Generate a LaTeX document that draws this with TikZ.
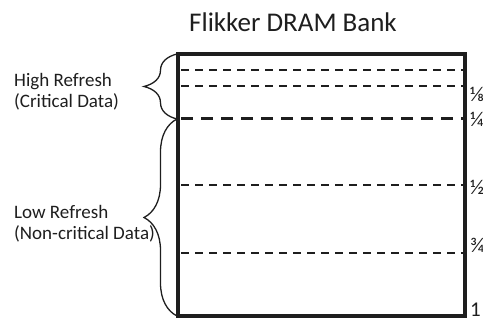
\documentclass[tikz,border=0pt]{standalone}
\usepackage{fontspec}
\setmainfont{Carlito}
\usetikzlibrary{decorations.pathreplacing}
\definecolor{ink}{RGB}{30,30,30}
\tikzset{
  bank/.style={draw=ink, line width=4.5pt, minimum width=287pt, minimum height=262pt, inner sep=0pt},
  thinsplit/.style={draw=ink, line width=2pt, dash pattern=on 8pt off 6pt},
  thicksplit/.style={draw=ink, line width=3pt, dash pattern=on 12pt off 8pt},
  lbl/.style={text=ink, font=\fontsize{19}{21}\selectfont, align=left, inner sep=0pt, anchor=base west},
  frac/.style={text=ink, font=\fontsize{21}{21}\selectfont, inner sep=0pt, anchor=base west},
  curly/.style={draw=ink, line width=1.3pt, decorate, decoration={brace, amplitude=33pt}},
}
\begin{document}
\begin{tikzpicture}[x=1pt, y=-1pt]
  \useasboundingbox (0,0) rectangle (483,320);
  \clip (0,0) rectangle (483,320);

  % the bank itself
  \node[bank] (bank) at (321.5,185) {};
  \node[text=ink, font=\fontsize{27}{30}\selectfont, inner sep=0pt, anchor=base] (title) at (293,32) {Flikker DRAM Bank};

  % refresh-interval boundaries
  \coordinate (s0l) at (181,70);  \coordinate (s0r) at (463,70);
  \coordinate (s1l) at (181,86);  \coordinate (s1r) at (463,86);
  \coordinate (s2l) at (181,119); \coordinate (s2r) at (463,119);
  \coordinate (s3l) at (181,185); \coordinate (s3r) at (463,185);
  \coordinate (s4l) at (181,253); \coordinate (s4r) at (463,253);
  \draw[thinsplit] (s0l) -- (s0r);
  \draw[thinsplit] (s1l) -- (s1r);
  \draw[thicksplit] (s2l) -- (s2r);
  \draw[thinsplit] (s3l) -- (s3r);
  \draw[thinsplit] (s4l) -- (s4r);

  % fractions along the right edge
  \node[frac] (f8) at (470,102) {⅛};
  \node[frac] (f4) at (470,127) {¼};
  \node[frac] (f2) at (470,195) {½};
  \node[frac] (f34) at (470,253) {¾};
  \node[frac] (f1) at (470,317) {1};

  % braces and their labels (base anchor sits on the last line)
  \coordinate (btop) at (177,54);
  \coordinate (bmid) at (177,119);
  \coordinate (bbot) at (177,316);
  \draw[curly] (bmid) -- (btop);
  \draw[curly] (bbot) -- (bmid);
  \node[lbl] (high) at (14,108) {High Refresh\\(Critical Data)};
  \node[lbl] (low) at (14,240) {Low Refresh\\(Non-critical Data)};
\end{tikzpicture}
\end{document}
